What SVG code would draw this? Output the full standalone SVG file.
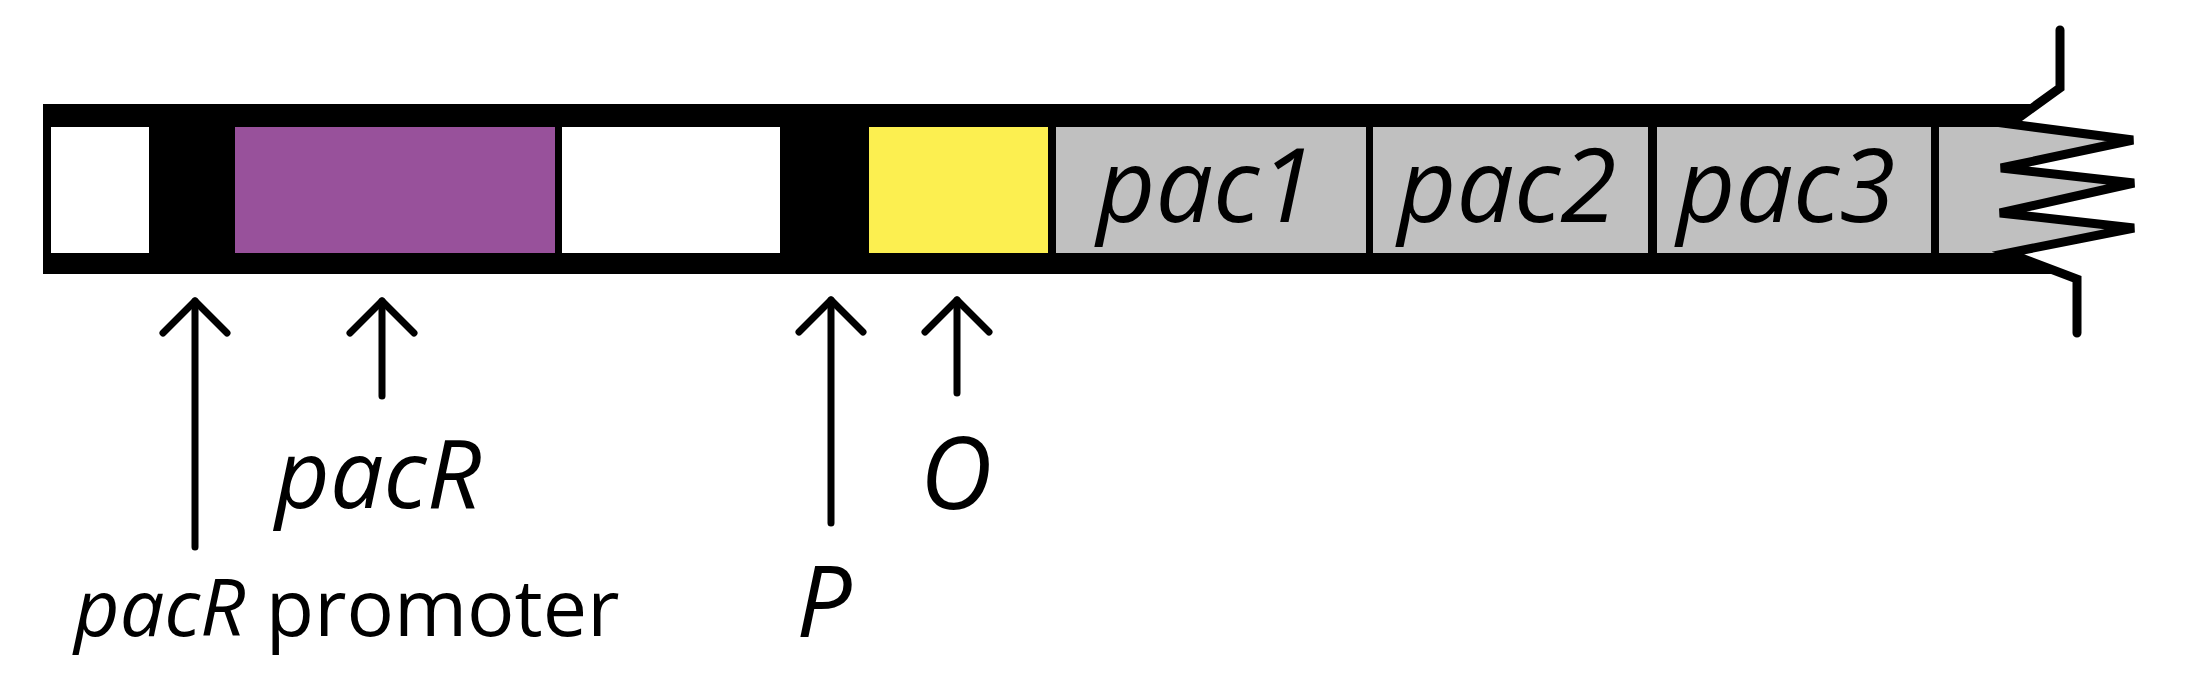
<svg xmlns="http://www.w3.org/2000/svg" width="2190" height="688" viewBox="0 0 2190 688">
<style>
.seg{stroke:none}
.lbl{font-family:"Open Sans","Noto Sans",sans-serif;fill:#000}
.it{font-style:italic}
.arr{fill:none;stroke:#000;stroke-width:7;stroke-linecap:round;stroke-linejoin:round}
.zig{fill:none;stroke:#000;stroke-width:9;stroke-linecap:round;stroke-linejoin:miter}
</style>
<defs>
<marker id="head" markerUnits="userSpaceOnUse" markerWidth="80" markerHeight="80" refX="0" refY="0" orient="auto" overflow="visible">
<path d="M-32,-32 L0,0 L-32,32" fill="none" stroke="#000" stroke-width="7" stroke-linecap="round" stroke-linejoin="round"/>
</marker>
</defs>
<rect width="2190" height="688" fill="#fff"/>
<g id="backbone">
<path d="M43,104 H2038 L2008,126 V253 L2058,274 H43 Z" fill="#000"/>
</g>
<g id="spacer1"><rect class="seg" x="51" y="127" width="98" height="126" fill="#fff"/></g>
<g id="pacR-promoter-region"><rect class="seg" x="149" y="127" width="86" height="126" fill="#000"/></g>
<g id="pacR-gene"><rect class="seg" x="235" y="127" width="320" height="126" fill="#98519b"/></g>
<g id="spacer2"><rect class="seg" x="562" y="127" width="218" height="126" fill="#fff"/></g>
<g id="operator"><rect class="seg" x="869" y="127" width="179" height="126" fill="#fcef50"/></g>
<g id="pac1">
<rect class="seg" x="1056" y="127" width="310" height="126" fill="#c0c0c0"/>
<text class="lbl it" x="1206" y="222" font-size="102" text-anchor="middle">pac1</text>
</g>
<g id="pac2">
<rect class="seg" x="1373" y="127" width="275" height="126" fill="#c0c0c0"/>
<text class="lbl it" x="1507" y="222" font-size="102" text-anchor="middle">pac2</text>
</g>
<g id="pac3">
<rect class="seg" x="1657" y="127" width="274" height="126" fill="#c0c0c0"/>
<text class="lbl it" x="1786" y="222" font-size="102" text-anchor="middle">pac3</text>
</g>
<g id="truncated-end">
<path d="M1939,127 H2008 L2133,140 L2001,168 L2134,183 L2000,213 L2134,228 L2008,253 H1939 Z" fill="#c0c0c0"/>
<path class="zig" d="M2060,30 V88 L2010,124 L2133,140 L2001,168 L2134,183 L2000,213 L2134,228 L2008,253 L2077,279 V333"/>
</g>
<g id="connectors">
<path class="arr" d="M195,547 V301" marker-end="url(#head)"/>
<path class="arr" d="M382,396 V301" marker-end="url(#head)"/>
<path class="arr" d="M831,523 V300" marker-end="url(#head)"/>
<path class="arr" d="M957,393 V300" marker-end="url(#head)"/>
</g>
<g id="labels">
<text class="lbl it" x="378" y="508" font-size="95" text-anchor="middle">pacR</text>
<text class="lbl" x="74" y="636" font-size="79"><tspan class="it">pacR</tspan> promoter</text>
<text class="lbl it" x="824" y="637" font-size="98" text-anchor="middle">P</text>
<text class="lbl it" x="956" y="509" font-size="100" text-anchor="middle">O</text>
</g>
</svg>
